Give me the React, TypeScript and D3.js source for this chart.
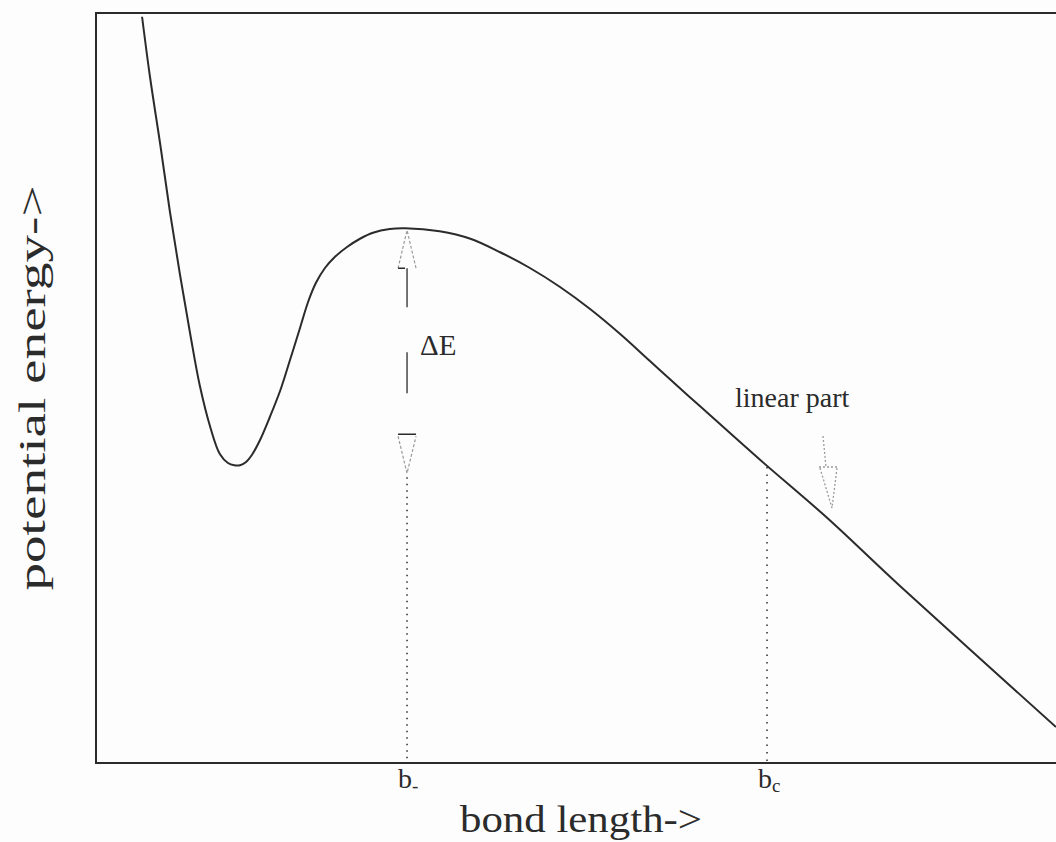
import React from "react";
import * as d3 from "d3";

// Potential energy curve (arbitrary units): bond length vs. potential energy
const bondLength = [
  0.48, 0.56, 0.67, 0.77, 0.875, 0.98, 1.08, 1.19, 1.29, 1.375, 1.44, 1.5,
  1.56, 1.625, 1.71, 1.81, 1.92, 2.02, 2.125, 2.21, 2.29, 2.385, 2.49, 2.615,
  2.75, 2.885, 3.06, 3.22, 3.58, 3.9, 4.21, 4.52, 4.83, 5.15, 5.46, 5.77, 6.08,
  6.29, 6.92, 7.615, 8.375, 10.0,
];
const potentialEnergy = [
  9.95, 9.17, 8.24, 7.35, 6.51, 5.73, 5.04, 4.48, 4.12, 4.0, 3.97, 3.97, 4.01,
  4.11, 4.31, 4.61, 4.97, 5.37, 5.8, 6.15, 6.4, 6.6, 6.75, 6.88, 6.99, 7.07,
  7.12, 7.13, 7.09, 6.99, 6.81, 6.6, 6.35, 6.05, 5.72, 5.36, 5.0, 4.76, 4.04,
  3.27, 2.36, 0.48,
];

// marked positions
const markerNames = ["b", "b"];
const markerSubs = ["-", "c"];
const markerX = [3.24, 6.99];
const barrierTop = 7.13;
const wellBottom = 3.97;

const xLabel = "bond length->";
const yLabel = "potential energy->";
const deltaLabel = "\u0394E";
const linearLabel = "linear part";

const W = 1056;
const H = 842;
const left = 96;
const right = 1056;
const top = 13;
const bottom = 763;
const ink = "#2b2b2b";
const faint = "#9a9a9a";
const serif = "'Liberation Serif', 'Times New Roman', serif";

export default function App() {
  const x = d3.scaleLinear().domain([0, 10]).range([left, right]);
  const y = d3.scaleLinear().domain([0, 10]).range([bottom, top]);
  const pts: [number, number][] = bondLength.map((b, i) => [b, potentialEnergy[i]]);
  const line = d3
    .line<[number, number]>()
    .x((d) => x(d[0]))
    .y((d) => y(d[1]))
    .curve(d3.curveCatmullRom.alpha(0.5));

  const bx = x(markerX[0]);
  const cx = x(markerX[1]);
  const yTop = y(barrierTop);
  const yWell = y(wellBottom);

  // linear-part arrow location
  const lx = 823;
  const ly = 428;

  return (
    <svg
      width={W}
      height={H}
      style={{ position: "absolute", left: 0, top: 0, background: "#fdfdfd" }}
      fontFamily={serif}
    >
      {/* frame */}
      <path
        d={`M${right + 10},${top} H${left} V${bottom} H${right + 10}`}
        fill="none"
        stroke={ink}
        strokeWidth={2}
      />

      {/* curve */}
      <path d={line(pts) || ""} fill="none" stroke={ink} strokeWidth={2} />

      {/* delta E arrow */}
      <path
        d={`M${bx - 9},${yTop + 40} L${bx},${yTop + 2} L${bx + 9},${yTop + 40}`}
        fill="none"
        stroke={faint}
        strokeWidth={1.2}
        strokeDasharray="3 2"
      />
      <line x1={bx - 9} x2={bx - 2} y1={yTop + 40} y2={yTop + 40} stroke={ink} strokeWidth={1.5} />
      <line x1={bx} x2={bx} y1={yTop + 40} y2={yTop + 79} stroke={ink} strokeWidth={1.3} />
      <line x1={bx} x2={bx} y1={yTop + 124} y2={yTop + 165} stroke={ink} strokeWidth={1.3} />
      <line x1={bx - 9} x2={bx + 9} y1={yWell - 31} y2={yWell - 31} stroke={ink} strokeWidth={1.5} />
      <path
        d={`M${bx - 9},${yWell - 29} L${bx},${yWell + 8} L${bx + 9},${yWell - 29}`}
        fill="none"
        stroke={faint}
        strokeWidth={1.2}
        strokeDasharray="3 2"
      />
      <text x={bx + 13} y={yTop + 127} fontSize={29} fill={ink}>
        {deltaLabel}
      </text>

      {/* dotted guide lines */}
      <line
        x1={bx}
        x2={bx}
        y1={yWell + 12}
        y2={bottom - 2}
        stroke={ink}
        strokeWidth={1.5}
        strokeDasharray="1.5 5"
      />
      <line
        x1={cx}
        x2={cx}
        y1={y(4.0) + 4}
        y2={bottom - 2}
        stroke={ink}
        strokeWidth={1.5}
        strokeDasharray="1.5 6"
      />

      {/* linear part label and arrow */}
      <text x={735} y={407} fontSize={28} fill={ink}>
        {linearLabel}
      </text>
      <path
        d={`M${lx},${ly + 8} L${lx + 3},${ly + 39}`}
        fill="none"
        stroke={faint}
        strokeWidth={1.3}
        strokeDasharray="2 2"
      />
      <path
        d={`M${lx - 4},${ly + 39} L${lx + 14},${ly + 39} M${lx - 3},${ly + 40} L${lx + 9},${ly + 80} L${lx + 14},${ly + 40}`}
        fill="none"
        stroke={faint}
        strokeWidth={1.3}
        strokeDasharray="2 2"
      />

      {/* marker labels */}
      {markerX.map((m, i) => (
        <text key={i} x={x(m) - 9} y={788} fontSize={28} fill={ink}>
          {markerNames[i]}
          <tspan fontSize={19} dy={4}>
            {markerSubs[i]}
          </tspan>
        </text>
      ))}

      {/* axis labels */}
      <text
        x={460}
        y={832}
        fontSize={37}
        fill={ink}
        textLength={242}
        lengthAdjust="spacingAndGlyphs"
      >
        {xLabel}
      </text>
      <text
        transform="translate(45,388) rotate(-90)"
        textAnchor="middle"
        fontSize={37}
        fill={ink}
        textLength={405}
        lengthAdjust="spacingAndGlyphs"
      >
        {yLabel}
      </text>
    </svg>
  );
}
